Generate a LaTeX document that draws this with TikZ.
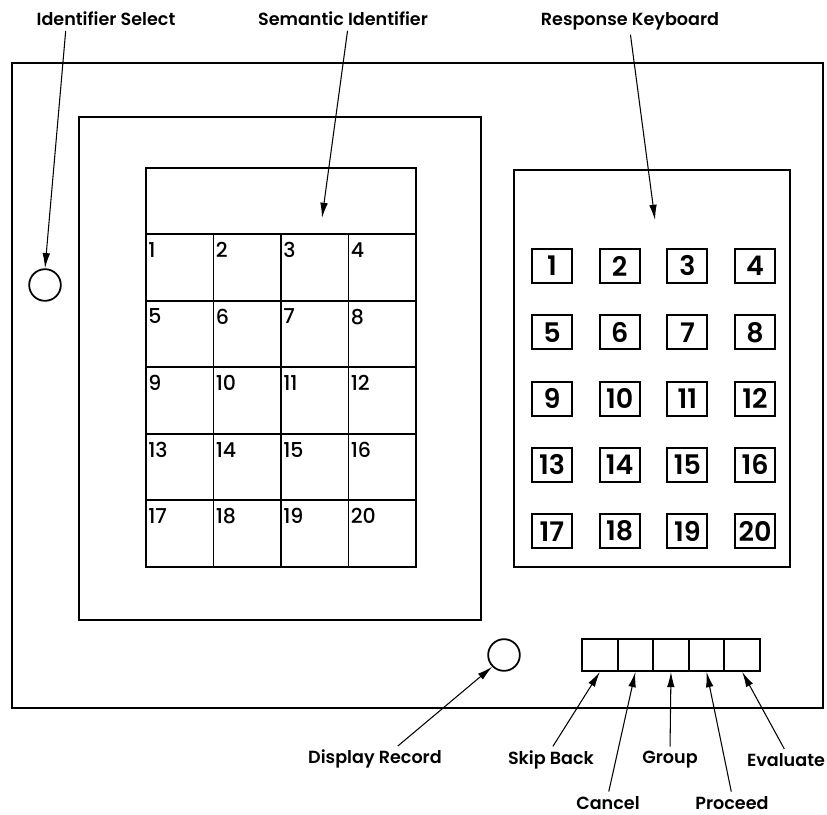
\documentclass[tikz,border=0pt]{standalone}
\usepackage{fontspec}
\setmainfont{Poppins}[BoldFont={* SemiBold}]
\newfontfamily\medfont{Poppins}[UprightFont={* Medium}]
\usetikzlibrary{arrows.meta, positioning}

\begin{document}
\begin{tikzpicture}[x=0.03cm, y=-0.03cm,
  frame/.style={draw, line width=1.8pt},
  cell/.style={draw, line width=1.6pt, minimum width=2.025cm,
               minimum height=2cm, inner sep=0pt},
  num/.style={anchor=north west, inner sep=0pt,
              font=\fontsize{17.5}{17.5}\medfont},
  key/.style={draw, line width=1.6pt, minimum width=1.2cm,
              minimum height=1.02cm, inner sep=0pt,
              font=\fontsize{23}{23}\selectfont\bfseries},
  knob/.style={draw, circle, line width=1.5pt, minimum size=0.95cm,
               inner sep=0pt},
  btn/.style={draw, line width=1.6pt, minimum width=1.068cm,
              minimum height=0.96cm, inner sep=0pt},
  lbl/.style={font=\fontsize{15}{17}\selectfont\bfseries, inner sep=1pt},
  arr/.style={-{Latex[length=13pt, width=6.5pt]}, line width=0.9pt,
              shorten <=3pt},
]
\useasboundingbox (0,0) rectangle (827,815);

% console and display area
\draw[frame, line width=2.2pt] (12,63) rectangle (823,708);
\draw[frame] (79,117) rectangle (481,620);
\node[cell, minimum width=8.1cm, minimum height=1.98cm] (hdr) at (281,201) {};
\foreach \r in {0,...,4}
  \foreach \c in {0,...,3} {
    \pgfmathtruncatemacro\n{4*\r+\c+1}
    \node[cell] (c\n) at ({179.75+67.5*\c},{267.3+66.6*\r}) {};
    \node[num] at ([shift={(3,9)}]c\n.north west) {\n};
  }

% response keyboard
\draw[frame] (514,170) rectangle (790,567);
\foreach \r in {0,...,4}
  \foreach \c in {0,...,3} {
    \pgfmathtruncatemacro\n{4*\r+\c+1}
    \node[key] (k\n) at ({552+67.7*\c},{266+66.3*\r}) {\n};
  }

\node[knob] (selbtn) at (45,285) {};
\node[knob] (dispbtn) at (504,655) {};
\foreach \i in {1,...,5}
  \node[btn] (b\i) at ({582+35.6*(\i-0.5)},655) {};

\node[lbl] (idsel) at (106,19) {Identifier Select};
\node[lbl] (semid) at (343,19) {Semantic Identifier};
\node[lbl] (resp) at (630,21) {Response Keyboard};
\node[lbl] (disp) at (375,759) {Display Record};
\node[lbl] (skip) at (551,760) {Skip Back};
\node[lbl] (group) at (670,760) {Group};
\node[lbl] (eval) at (786,760) {Evaluate};
\node[lbl] (cancel) at (608,803) {Cancel};
\node[lbl] (proc) at (732,803) {Proceed};

\coordinate (semtip) at (322,218);
\coordinate (resptip) at (655,220);

\draw[arr] ([xshift=-1.2cm]idsel.south) -- (selbtn.north);
\draw[arr] ([xshift=0.15cm]semid.south) -- (semtip);
\draw[arr] (resp.south) -- (resptip);
\draw[arr] ([xshift=0.6cm]disp.north) -- (dispbtn.south west);
\draw[arr] (skip.north) -- (b1.south);
\draw[arr] (cancel.north) -- (b2.south);
\draw[arr] (group.north) -- (b3.south);
\draw[arr] (proc.north) -- (b4.south);
\draw[arr] (eval.north) -- (b5.south);
\end{tikzpicture}
\end{document}
